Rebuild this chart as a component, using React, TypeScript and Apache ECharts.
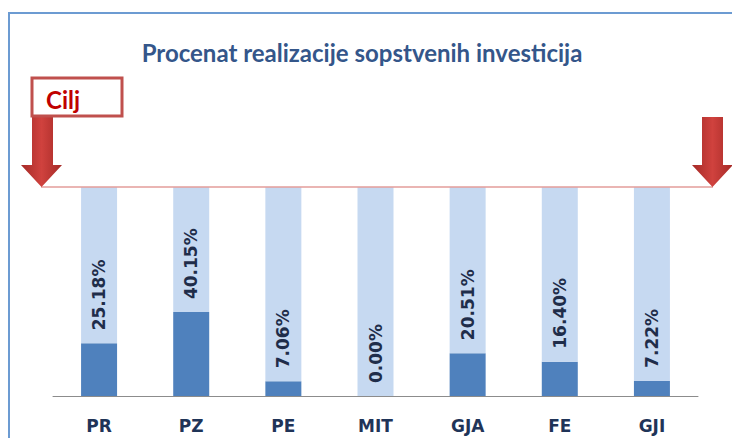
import React, { useEffect, useRef } from "react";
import * as echarts from "echarts";

const categories = ["PR", "PZ", "PE", "MIT", "GJA", "FE", "GJI"];
const realized = [25.18, 40.15, 7.06, 0.0, 20.51, 16.4, 7.22];
const target = 100;
const titleText = "Procenat realizacije sopstvenih investicija";
const targetLabel = "Cilj";

export default function App() {
  const ref = useRef<HTMLDivElement>(null);
  useEffect(() => {
    document.body.style.margin = "0";
    const chart = echarts.init(ref.current!, null, { renderer: "svg" });
    const remaining = realized.map((v) => target - v);
    const arrowFill = new echarts.graphic.LinearGradient(0, 0, 1, 0, [
      { offset: 0, color: "#A52A27" },
      { offset: 0.5, color: "#D0423E" },
      { offset: 1, color: "#A52A27" },
    ]);
    chart.setOption({
      animation: false,
      backgroundColor: "#ffffff",
      title: {
        text: titleText,
        left: 357,
        top: 35,
        textAlign: "center",
        textStyle: {
          fontFamily: "Lato, 'Open Sans', sans-serif",
          fontSize: 24,
          fontWeight: "bold",
          color: "#34568A",
        },
      },
      grid: { left: 53, right: 34, top: 187, bottom: 42 },
      xAxis: {
        type: "category",
        data: categories,
        axisLine: { lineStyle: { color: "#8C8C8C", width: 1 } },
        axisTick: { length: 6, lineStyle: { color: "#8C8C8C" } },
        axisLabel: {
          margin: 21,
          fontFamily: "'DejaVu Sans', sans-serif",
          fontWeight: "bold",
          fontSize: 17,
          color: "#1F3458",
        },
      },
      yAxis: { type: "value", min: 0, max: target, show: false, splitLine: { show: false } },
      series: [
        {
          type: "bar",
          stack: "s",
          data: realized,
          barWidth: 36,
          itemStyle: { color: "#4F81BD" },
        },
        {
          type: "bar",
          stack: "s",
          data: remaining,
          barWidth: 36,
          itemStyle: { color: "#C6D9F1" },
          label: {
            show: true,
            position: "insideBottom",
            rotate: 90,
            align: "left",
            verticalAlign: "middle",
            distance: 13,
            fontFamily: "'DejaVu Sans', sans-serif",
            fontWeight: "bold",
            fontSize: 17,
            color: "#1F2D4A",
            formatter: (p: any) => realized[p.dataIndex].toFixed(2) + "%",
          },
        },
      ],
      graphic: [
        {
          type: "rect",
          shape: { x: 9, y: 13, width: 800, height: 500 },
          style: { fill: "none", stroke: "#6C9BD2", lineWidth: 2 },
          silent: true,
        },
        {
          type: "line",
          shape: { x1: 41, y1: 187, x2: 713, y2: 187 },
          style: { stroke: "#E39C9A", lineWidth: 1.5 },
          z: 10,
        },
        {
          type: "polygon",
          shape: {
            points: [
              [32, 117], [53, 117], [53, 165], [62, 165], [41.5, 187], [21, 165], [32, 165],
            ],
          },
          style: { fill: arrowFill },
          z: 11,
        },
        {
          type: "polygon",
          shape: {
            points: [
              [702, 117], [723, 117], [723, 165], [733, 165], [712.5, 187], [692, 165], [702, 165],
            ],
          },
          style: { fill: arrowFill },
          z: 11,
        },
        {
          type: "rect",
          shape: { x: 32, y: 78, width: 90, height: 38 },
          style: { fill: "#ffffff", stroke: "#C0504D", lineWidth: 3 },
          z: 12,
        },
        {
          type: "text",
          x: 46,
          y: 99,
          style: {
            text: targetLabel,
            fontFamily: "Lato, 'Open Sans', sans-serif",
            fontWeight: "bold",
            fontSize: 24,
            fill: "#C00000",
            verticalAlign: "middle",
          },
          z: 13,
        },
      ],
    });
    return () => chart.dispose();
  }, []);
  return <div ref={ref} style={{ width: 732, height: 438 }} />;
}
